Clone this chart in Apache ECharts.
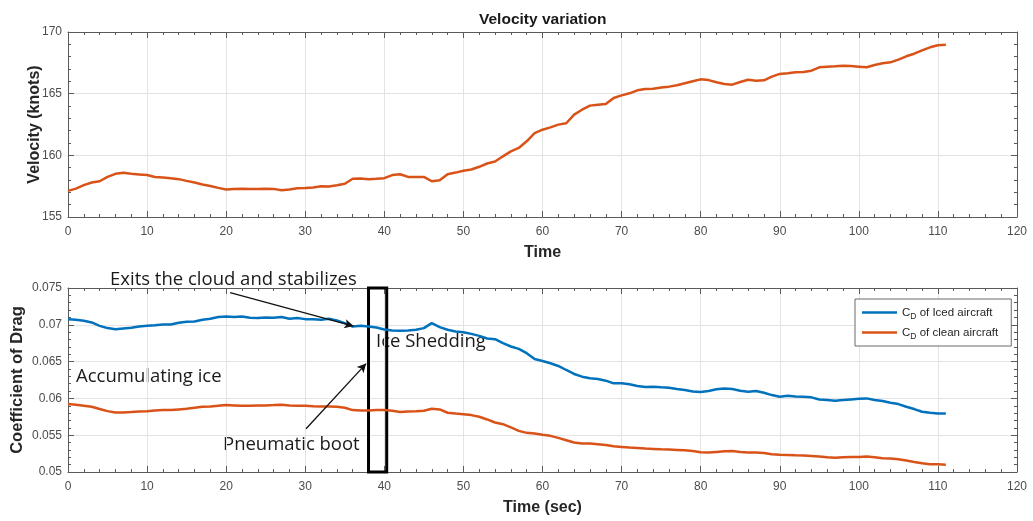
<!DOCTYPE html>
<html>
<head>
<meta charset="utf-8">
<title>Velocity variation</title>
<script src="https://cdn.jsdelivr.net/npm/echarts@6/dist/echarts.min.js"></script>
<style>
    html, body { margin: 0; padding: 0; background: #fff; }
    #chart { width: 1033px; height: 521px; }
</style>
</head>
<body>
<div id="chart"></div>
<script>
// sample times (sec)
const time = [
    0, 1, 2, 3, 4, 5, 6, 7, 8, 9, 10, 11, 12, 13, 14, 15, 16, 17, 18, 19,
    20, 21, 22, 23, 24, 25, 26, 27, 28, 29, 30, 31, 32, 33, 34, 35, 36, 37, 38, 39,
    40, 41, 42, 43, 44, 45, 46, 47, 48, 49, 50, 51, 52, 53, 54, 55, 56, 57, 58, 59,
    60, 61, 62, 63, 64, 65, 66, 67, 68, 69, 70, 71, 72, 73, 74, 75, 76, 77, 78, 79,
    80, 81, 82, 83, 84, 85, 86, 87, 88, 89, 90, 91, 92, 93, 94, 95, 96, 97, 98, 99,
    100, 101, 102, 103, 104, 105, 106, 107, 108, 109, 110, 111
];

// velocity (knots)
const velocity = [
    157.12, 157.30, 157.58, 157.80, 157.90, 158.25, 158.50, 158.58, 158.50, 158.45,
    158.40, 158.25, 158.20, 158.15, 158.07, 157.93, 157.80, 157.63, 157.52, 157.36,
    157.23, 157.28, 157.30, 157.28, 157.28, 157.30, 157.28, 157.17, 157.23, 157.33,
    157.36, 157.40, 157.50, 157.48, 157.58, 157.70, 158.10, 158.12, 158.07, 158.10,
    158.15, 158.40, 158.47, 158.25, 158.25, 158.25, 157.90, 157.98, 158.47, 158.60,
    158.75, 158.85, 159.07, 159.34, 159.50, 159.92, 160.32, 160.60, 161.14, 161.80,
    162.08, 162.27, 162.49, 162.60, 163.30, 163.70, 164.03, 164.10, 164.16, 164.65,
    164.86, 165.03, 165.27, 165.38, 165.40, 165.50, 165.57, 165.68, 165.84, 166.00,
    166.16, 166.10, 165.92, 165.78, 165.73, 165.95, 166.13, 166.05, 166.08, 166.38,
    166.60, 166.65, 166.73, 166.76, 166.86, 167.14, 167.19, 167.22, 167.27, 167.24,
    167.19, 167.14, 167.32, 167.46, 167.54, 167.76, 168.03, 168.24, 168.51, 168.76,
    168.92, 168.97
];

// drag coefficient, iced aircraft
const cdIced = [
    0.07077, 0.07068, 0.07055, 0.07032, 0.06986, 0.06955, 0.06941, 0.06950, 0.06959, 0.06977,
    0.06986, 0.06995, 0.07005, 0.07005, 0.07027, 0.07041, 0.07045, 0.07068, 0.07082, 0.07105,
    0.07114, 0.07105, 0.07114, 0.07095, 0.07091, 0.07100, 0.07095, 0.07105, 0.07082, 0.07091,
    0.07077, 0.07077, 0.07068, 0.07082, 0.07059, 0.07023, 0.06977, 0.06986, 0.06977, 0.06964,
    0.06936, 0.06923, 0.06918, 0.06923, 0.06932, 0.06955, 0.07023, 0.06968, 0.06932, 0.06909,
    0.06900, 0.06877, 0.06850, 0.06814, 0.06805, 0.06750, 0.06705, 0.06673, 0.06614, 0.06536,
    0.06509, 0.06477, 0.06441, 0.06386, 0.06332, 0.06295, 0.06273, 0.06264, 0.06241, 0.06205,
    0.06205, 0.06191, 0.06168, 0.06155, 0.06159, 0.06150, 0.06145, 0.06127, 0.06114, 0.06095,
    0.06086, 0.06100, 0.06123, 0.06136, 0.06127, 0.06105, 0.06091, 0.06100, 0.06077, 0.06045,
    0.06023, 0.06036, 0.06027, 0.06023, 0.06014, 0.05986, 0.05977, 0.05968, 0.05977, 0.05986,
    0.05995, 0.06000, 0.05977, 0.05964, 0.05941, 0.05923, 0.05886, 0.05855, 0.05818, 0.05805,
    0.05795, 0.05795
];

// drag coefficient, clean aircraft
const cdClean = [
    0.05923, 0.05914, 0.05900, 0.05886, 0.05855, 0.05827, 0.05809, 0.05809, 0.05814, 0.05823,
    0.05827, 0.05836, 0.05841, 0.05841, 0.05850, 0.05859, 0.05873, 0.05886, 0.05891, 0.05900,
    0.05909, 0.05905, 0.05900, 0.05900, 0.05905, 0.05905, 0.05909, 0.05914, 0.05905, 0.05900,
    0.05900, 0.05895, 0.05891, 0.05891, 0.05886, 0.05873, 0.05841, 0.05836, 0.05836, 0.05841,
    0.05841, 0.05832, 0.05814, 0.05823, 0.05827, 0.05832, 0.05859, 0.05850, 0.05805, 0.05795,
    0.05786, 0.05773, 0.05750, 0.05714, 0.05673, 0.05650, 0.05605, 0.05559, 0.05532, 0.05523,
    0.05505, 0.05491, 0.05464, 0.05432, 0.05400, 0.05386, 0.05386, 0.05377, 0.05368, 0.05350,
    0.05341, 0.05332, 0.05327, 0.05318, 0.05314, 0.05309, 0.05305, 0.05300, 0.05295, 0.05286,
    0.05268, 0.05264, 0.05273, 0.05282, 0.05286, 0.05273, 0.05264, 0.05264, 0.05259, 0.05241,
    0.05236, 0.05232, 0.05227, 0.05223, 0.05218, 0.05209, 0.05200, 0.05195, 0.05200, 0.05205,
    0.05205, 0.05209, 0.05200, 0.05186, 0.05182, 0.05173, 0.05155, 0.05136, 0.05118, 0.05105,
    0.05105, 0.05100
];

// annotation arrows and the pneumatic boot window (data coords)
const cloudArrow = [[20.5, 0.07436], [36.1, 0.06982]];
const bootArrow = [[30.1, 0.05587], [37.7, 0.06473]];
const bootWindow = [[38, 0.0752], [40.3, 0.0499]];

const BLUE = '#0072BD';
const ORANGE = '#D95319';
const AXIS = '#5a5a5a';
const FONT = 'Liberation Sans';
const NOTE_FONT = '18.5px "Open Sans"';

function pairs(ys) {
    return time.map((t, i) => [t, ys[i]]);
}

// MATLAB-ish boxed axis: main (with labels) + mirrored side (ticks only)
function axis(extra, mirror) {
    return Object.assign({
        type: 'value',
        nameMoveOverlap: false,
        axisLine: { show: true, onZero: false, lineStyle: { color: AXIS, width: 1 } },
        axisTick: { show: true, inside: true, length: 6, lineStyle: { color: AXIS } },
        minorTick: { show: true, splitNumber: 5, length: 3, lineStyle: { color: AXIS } },
        axisLabel: mirror ? { show: false } : { color: '#4d4d4d', fontSize: 12, fontFamily: FONT },
        splitLine: { show: !mirror, lineStyle: { color: '#e3e3e3', width: 1 } },
        minorSplitLine: { show: false },
        nameTextStyle: { color: '#262626', fontSize: 16, fontWeight: 'bold', fontFamily: FONT }
    }, extra);
}

const chart = echarts.init(document.getElementById('chart'), null, { renderer: 'canvas' });

const option = {
    backgroundColor: '#fff',
    animation: false,
    title: {
        text: 'Velocity variation',
        left: 474,
        top: 7,
        textStyle: { color: '#1a1a1a', fontSize: 15.5, fontWeight: 'bold', fontFamily: FONT }
    },
    grid: [
        { left: 68, right: 16, top: 32, height: 185, containLabel: false, outerBoundsMode: 'none' },
        { left: 68, right: 16, top: 288, height: 184, containLabel: false, outerBoundsMode: 'none' }
    ],
    xAxis: [
        axis({ gridIndex: 0, min: 0, max: 120, interval: 10, name: 'Time',
               nameLocation: 'middle', nameGap: 28, axisLabel: { color: '#4d4d4d', fontSize: 12, fontFamily: FONT, margin: 9 } }),
        axis({ gridIndex: 0, min: 0, max: 120, interval: 10, position: 'top' }, true),
        axis({ gridIndex: 1, min: 0, max: 120, interval: 10, name: 'Time (sec)',
               nameLocation: 'middle', nameGap: 28, axisLabel: { color: '#4d4d4d', fontSize: 12, fontFamily: FONT, margin: 9 } }),
        axis({ gridIndex: 1, min: 0, max: 120, interval: 10, position: 'top' }, true)
    ],
    yAxis: [
        axis({ gridIndex: 0, min: 155, max: 170, interval: 5, name: 'Velocity (knots)',
               nameLocation: 'middle', nameGap: 25,
               axisLabel: { color: '#4d4d4d', fontSize: 12, fontFamily: FONT, margin: 6 } }),
        axis({ gridIndex: 0, min: 155, max: 170, interval: 5, position: 'right' }, true),
        axis({ gridIndex: 1, min: 0.05, max: 0.075, interval: 0.005, name: 'Coefficient of Drag',
               nameLocation: 'middle', nameGap: 42,
               nameTextStyle: { color: '#262626', fontSize: 16.5, fontWeight: 'bold', fontFamily: FONT },
               axisLabel: { color: '#4d4d4d', fontSize: 12, fontFamily: FONT, margin: 6 } }),
        axis({ gridIndex: 1, min: 0.05, max: 0.075, interval: 0.005, position: 'right' }, true)
    ],
    legend: {
        data: ['CD of Iced aircraft', 'CD of clean aircraft'],
        orient: 'vertical',
        left: 855,
        top: 299,
        padding: [5, 13, 5, 7],
        itemGap: 3,
        itemWidth: 35,
        itemHeight: 2.5,
        icon: 'rect',
        backgroundColor: '#fff',
        borderColor: '#6b6b6b',
        borderWidth: 1,
        borderRadius: 0,
        formatter: name => name.replace('CD', 'C{sub|D}'),
        textStyle: {
            color: '#262626', fontSize: 11.5, fontFamily: FONT, lineHeight: 17,
            rich: { sub: { fontSize: 8.5, fontFamily: FONT, lineHeight: 9, verticalAlign: 'bottom', color: '#262626' } }
        }
    },
    series: [
        {
            name: 'Velocity',
            type: 'line',
            xAxisIndex: 0,
            yAxisIndex: 0,
            data: pairs(velocity),
            showSymbol: false,
            symbol: 'none',
            lineStyle: { color: ORANGE, width: 2.5 },
            itemStyle: { color: ORANGE }
        },
        {
            name: 'CD of Iced aircraft',
            type: 'line',
            xAxisIndex: 2,
            yAxisIndex: 2,
            data: pairs(cdIced),
            showSymbol: false,
            symbol: 'none',
            clip: false,
            lineStyle: { color: BLUE, width: 2.5 },
            itemStyle: { color: BLUE },
            markLine: {
                silent: true,
                symbol: ['none', 'arrow'],
                symbolSize: [7, 9],
                label: { show: false },
                lineStyle: { color: '#111', width: 1.3, type: 'solid' },
                data: [
                    [{ coord: cloudArrow[0] }, { coord: cloudArrow[1] }],
                    [{ coord: bootArrow[0] }, { coord: bootArrow[1] }]
                ]
            },
            markArea: {
                silent: true,
                itemStyle: { color: 'rgba(0,0,0,0)', borderColor: '#000', borderWidth: 3 },
                label: { show: false },
                data: [[{ coord: bootWindow[0] }, { coord: bootWindow[1] }]]
            }
        },
        {
            name: 'CD of clean aircraft',
            type: 'line',
            xAxisIndex: 2,
            yAxisIndex: 2,
            data: pairs(cdClean),
            showSymbol: false,
            symbol: 'none',
            lineStyle: { color: ORANGE, width: 2.5 },
            itemStyle: { color: ORANGE }
        }
    ],
    graphic: [
        { type: 'text', x: 110, y: 280, style: { text: 'Exits the cloud and stabilizes', font: NOTE_FONT, fill: '#1a1a1a', verticalAlign: 'middle' } },
        { type: 'text', x: 376, y: 342, style: { text: 'Ice Shedding', font: NOTE_FONT, fill: '#1a1a1a', verticalAlign: 'middle' } },
        { type: 'text', x: 76, y: 377, style: { text: 'Accumulating ice', font: NOTE_FONT, fill: '#1a1a1a', verticalAlign: 'middle' } },
        { type: 'text', x: 223, y: 445, style: { text: 'Pneumatic boot', font: NOTE_FONT, fill: '#1a1a1a', verticalAlign: 'middle' } }
    ]
};

chart.setOption(option);
window.onresize = () => chart.resize();
</script>
</body>
</html>
